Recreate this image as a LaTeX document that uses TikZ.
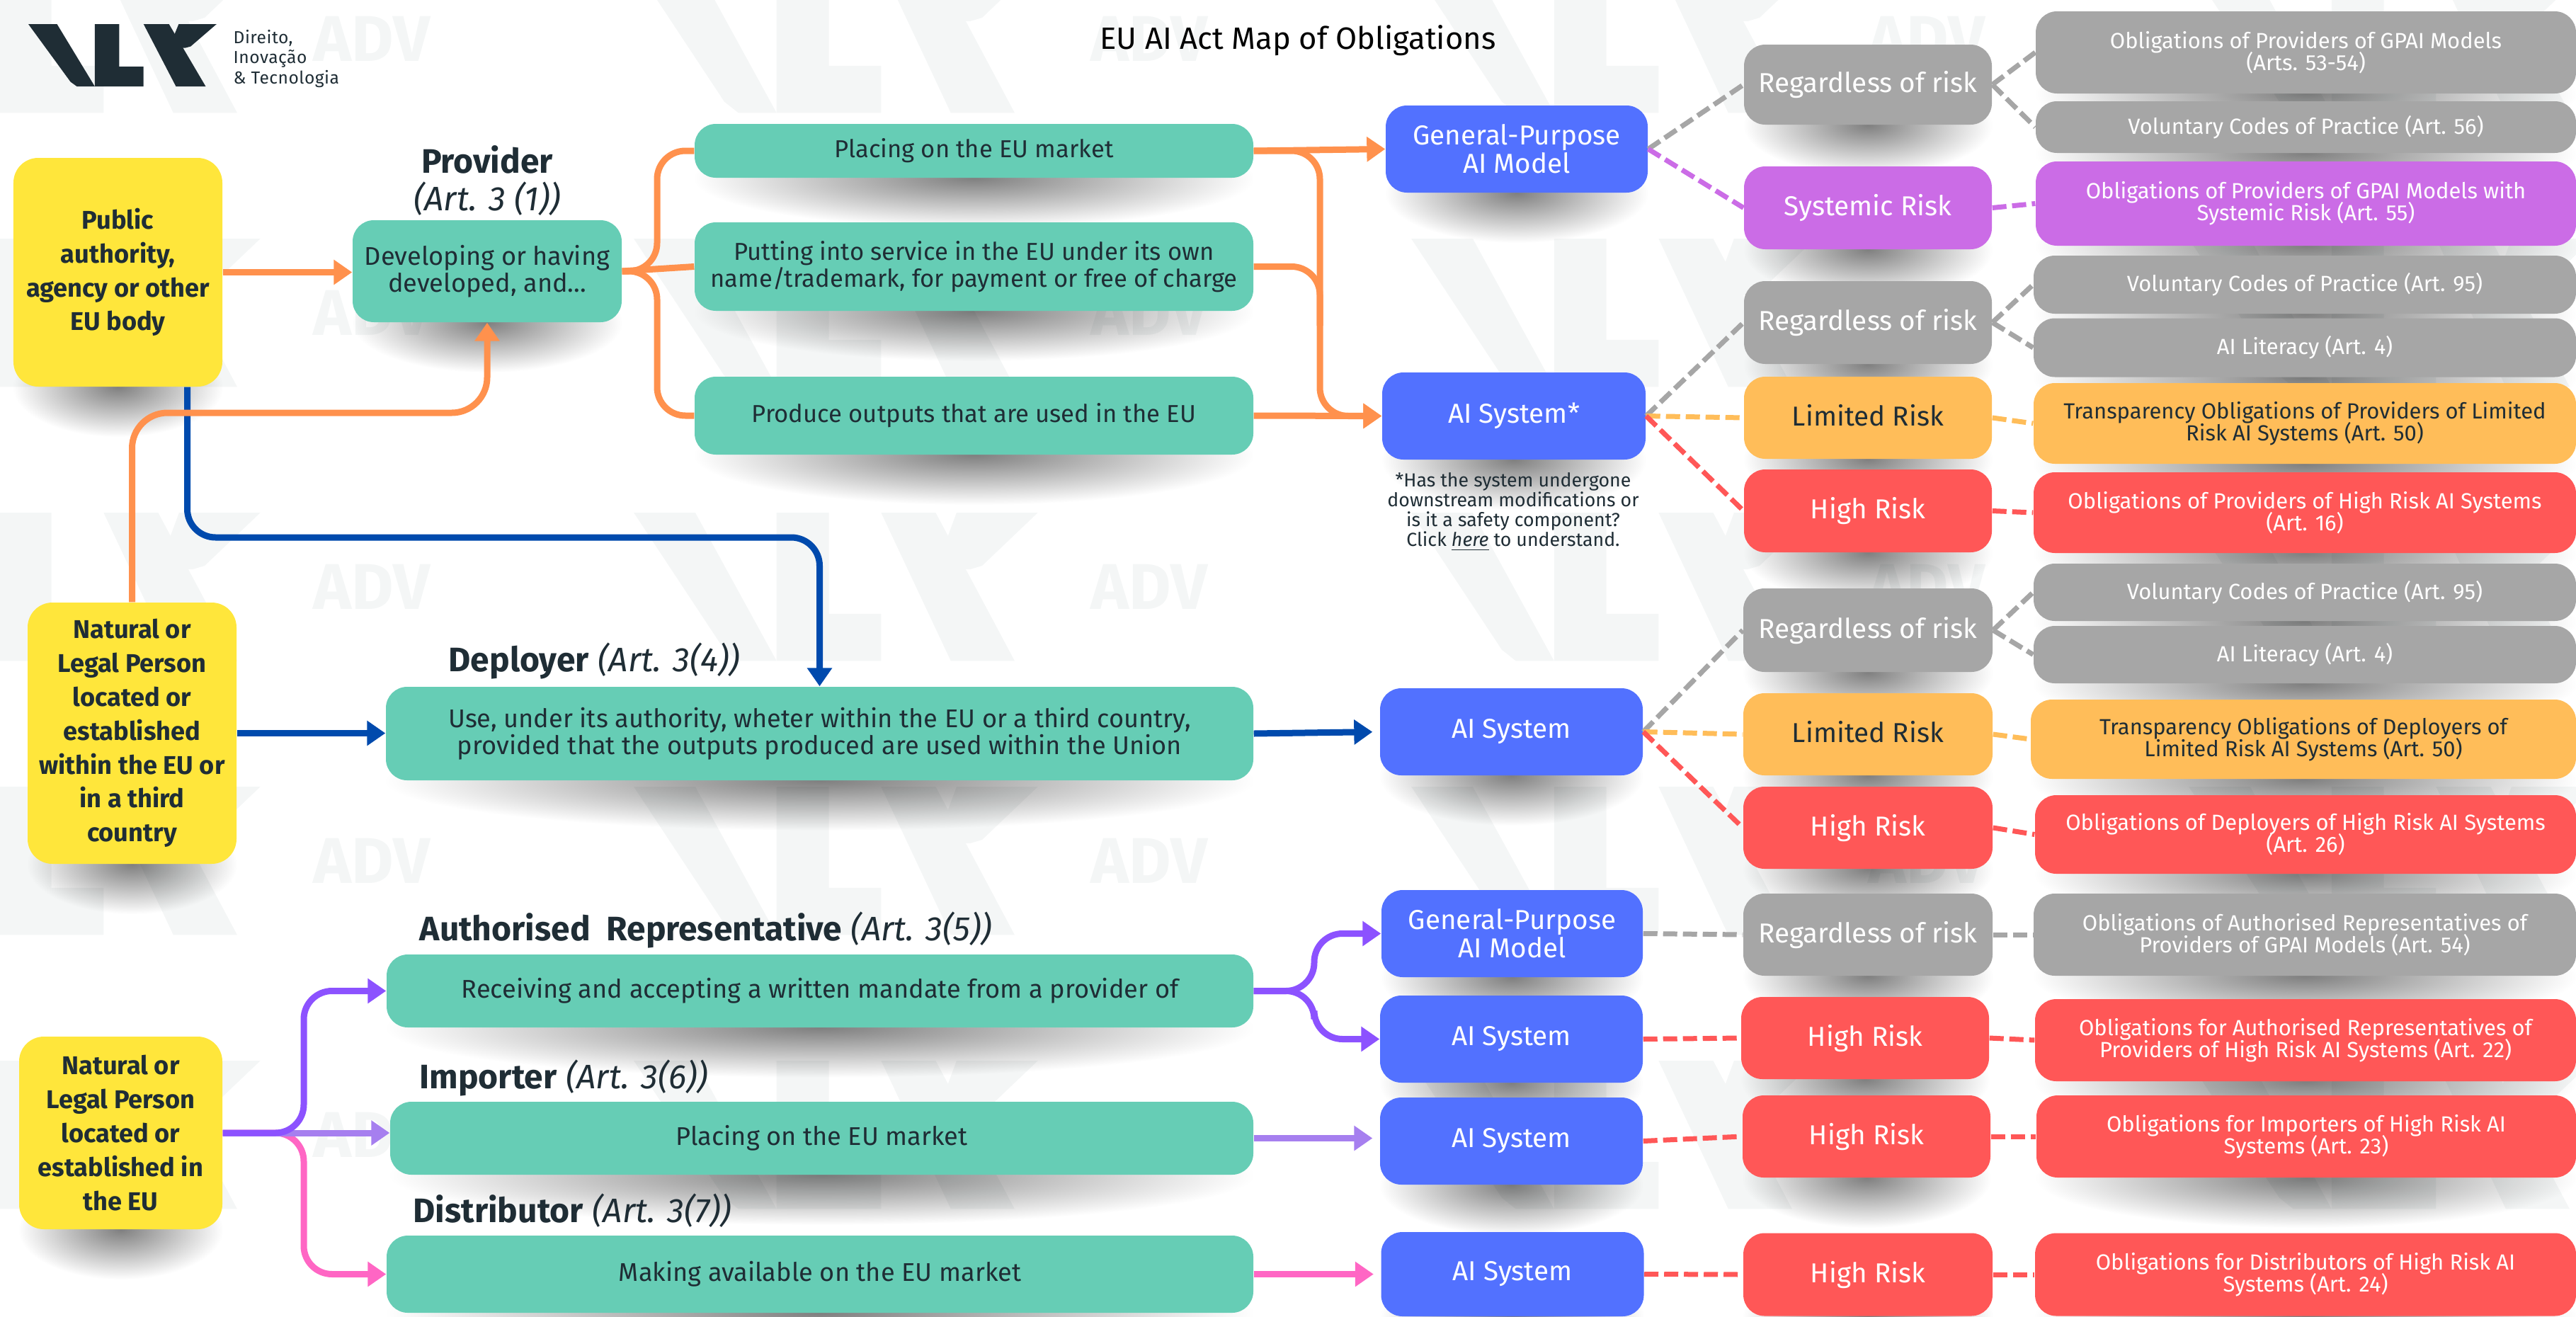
\documentclass[tikz,border=0pt]{standalone}
\usepackage{fontspec}
\setmainfont{Fira Sans}
\usetikzlibrary{arrows.meta,backgrounds,fadings}
\definecolor{inkdark}{HTML}{1F2D35}
\definecolor{markgrey}{HTML}{F4F6F6}
\definecolor{cardyellow}{HTML}{FFE63B}
\definecolor{cardteal}{HTML}{66CDB5}
\definecolor{cardblue}{HTML}{5271FF}
\definecolor{cardgrey}{HTML}{A6A6A6}
\definecolor{cardpurple}{HTML}{CB6CE6}
\definecolor{cardamber}{HTML}{FFBD59}
\definecolor{cardred}{HTML}{FF5757}
\definecolor{lineorange}{HTML}{FF914D}
\definecolor{linenavy}{HTML}{004AAD}
\definecolor{lineviolet}{HTML}{8C52FF}
\definecolor{linelilac}{HTML}{A67FEF}
\definecolor{linepink}{HTML}{FF66C4}
\tikzfading[name=softoval, inner color=transparent!50, outer color=transparent!100]
\lineskiplimit=-5pt
\begin{document}
\begin{tikzpicture}
	[x=1cm, y=-1cm,
	 sz/.style 2 args={minimum width=#1cm, minimum height=#2cm},
	 card/.style={rectangle, rounded corners=.3cm, inner sep=0pt, align=center, text=white},
	 yellowbox/.style={card, fill=cardyellow, text=inkdark, rounded corners=.35cm, font=\fontsize{10.3}{13.6}\selectfont\bfseries},
	 tealbox/.style={card, fill=cardteal, text=inkdark, font=\fontsize{9.85}{10.8}\selectfont},
	 widebox/.style={tealbox, font=\fontsize{10.3}{10.9}\selectfont},
	 bluebox/.style={card, fill=cardblue, font=\fontsize{11}{11.4}\selectfont},
	 riskbox/.style={card, text height=.3cm, text depth=.08cm, font=\fontsize{11}{12}\selectfont},
	 dutybox/.style={card, font=\fontsize{8.8}{8.9}\selectfont},
	 rolelabel/.style={text=inkdark, inner sep=0pt, font=\fontsize{13.65}{15}\selectfont},
	 watermark/.style={text=markgrey, font=\fontsize{26}{26}\selectfont\bfseries},
	 branch/.style={line width=.09cm, rounded corners=.4cm},
	 tipped/.style={branch, -{Triangle[length=.26cm,width=.34cm]}},
	 dashlink/.style={line width=.07cm, dash pattern=on .2cm off .08cm},
	 vlkmark/.pic={
		\fill (0,0) -- (.53,0) -- (1.23,1.73) -- (.9,1.73) -- (.78,1.6) -- cycle;
		\fill (1.23,0) -- (1.68,0) -- (1.68,1.18) -- (2.13,1.18) -- (2.13,1.73) -- (1.23,1.73) -- cycle;
		\fill (2.13,0) -- (2.6,0) -- (3.28,1.73) -- (2.73,1.73) -- cycle;
		\fill (2.78,0) -- (3.48,0) -- (3,.62) -- (2.9,.66) -- (2.6,.66) -- cycle;
	 }]
	\useasboundingbox (0,0) rectangle (36.38,18.59);

	\pic[color=inkdark, xscale=.764, yscale=.51] at (.4,.34) {vlkmark};
	\node[anchor=west, align=left, text=inkdark, inner sep=0pt, font=\fontsize{7}{8.2}\selectfont\addfontfeature{LetterSpace=2}] (vlktext) at (3.29,.83) {Direito,\\Inovação\\\& Tecnologia};
	\node[text=black, inner sep=0pt, font=\fontsize{12.4}{14}\selectfont] (title) at (18.33,.57) {EU AI Act Map of Obligations};

	\node[yellowbox, sz={2.95}{3.23}] (pub) at (1.665,3.845) {Public\\authority,\\agency or other\\EU body};
	\node[yellowbox, sz={2.95}{3.69}] (nat1) at (1.865,10.355) {Natural or\\Legal Person\\located or\\established\\within the EU or\\in a third\\country};
	\node[yellowbox, sz={2.87}{2.72}] (nat2) at (1.705,16) {Natural or\\Legal Person\\located or\\established in\\the EU};

	\node[widebox, sz={3.8}{1.44}] (dev) at (6.88,3.83) {Developing or having\\developed, and...};
	\node[tealbox, sz={7.89}{.76}] (placing) at (13.755,2.13) {Placing on the EU market};
	\node[tealbox, sz={7.89}{1.25}] (putting) at (13.755,3.765) {Putting into service in the EU under its own\\name/trademark, for payment or free of charge};
	\node[tealbox, sz={7.89}{1.1}] (produce) at (13.755,5.87) {Produce outputs that are used in the EU};
	\node[widebox, sz={12.25}{1.32}] (use) at (11.575,10.36) {Use, under its authority, wheter within the EU or a third country,\\provided that the outputs produced are used within the Union};
	\node[widebox, sz={12.24}{1.03}] (recv) at (11.58,13.995) {Receiving and accepting a written mandate from a provider of};
	\node[widebox, sz={12.19}{1.03}] (impo) at (11.605,16.075) {Placing on the EU market};
	\node[widebox, sz={12.24}{1.09}] (dist) at (11.58,17.995) {Making available on the EU market};

	\node[rolelabel, align=center] (provlabel) at (6.88,2.55) {\textbf{Provider}\\\textit{(Art. 3 (1))}};
	\node[rolelabel, anchor=west] (deplabel) at (6.33,9.33) {\textbf{Deployer} \textit{(Art. 3(4))}};
	\node[rolelabel, anchor=west] (reprlabel) at (5.92,13.13) {\textbf{Authorised\ \ Representative} \textit{(Art. 3(5))}};
	\node[rolelabel, anchor=west] (implabel) at (5.92,15.22) {\textbf{Importer} \textit{(Art. 3(6))}};
	\node[rolelabel, anchor=west] (distlabel) at (5.83,17.1) {\textbf{Distributor} \textit{(Art. 3(7))}};

	\node[bluebox, fill=cardblue, sz={3.7}{1.23}] (gp1) at (21.42,2.105) {General-Purpose\\AI Model};
	\node[bluebox, sz={3.72}{1.23}] (ai1) at (21.38,5.875) {AI System*};
	\node[text=inkdark, inner sep=0pt, align=center, font=\fontsize{7.6}{7.9}\selectfont] (aifoot) at (21.37,7.23) {*Has the system undergone\\downstream modifications or\\is it a safety component?\\Click \underline{\textit{here}} to understand.};
	\node[bluebox, sz={3.71}{1.23}] (ai2) at (21.345,10.335) {AI System};
	\node[bluebox, sz={3.69}{1.23}] (gp2) at (21.355,13.185) {General-Purpose\\AI Model};
	\node[bluebox, sz={3.71}{1.23}] (ai3) at (21.345,14.675) {AI System};
	\node[bluebox, sz={3.71}{1.23}] (ai4) at (21.345,16.115) {AI System};
	\node[bluebox, sz={3.71}{1.19}] (ai5) at (21.36,17.995) {AI System};

	\node[riskbox, fill=cardgrey, sz={3.5}{1.13}] (reg1) at (26.38,1.195) {Regardless of risk};
	\node[riskbox, fill=cardpurple, sz={3.5}{1.17}] (sys1) at (26.38,2.935) {Systemic Risk};
	\node[riskbox, fill=cardgrey, sz={3.5}{1.17}] (reg2) at (26.38,4.555) {Regardless of risk};
	\node[riskbox, fill=cardamber, text=inkdark, sz={3.5}{1.16}] (lim1) at (26.38,5.9) {Limited Risk};
	\node[riskbox, fill=cardred, sz={3.5}{1.17}] (high1) at (26.38,7.215) {High Risk};
	\node[riskbox, fill=cardgrey, sz={3.52}{1.18}] (reg3) at (26.38,8.9) {Regardless of risk};
	\node[riskbox, fill=cardamber, text=inkdark, sz={3.52}{1.16}] (lim2) at (26.38,10.37) {Limited Risk};
	\node[riskbox, fill=cardred, sz={3.52}{1.16}] (high2) at (26.38,11.69) {High Risk};
	\node[riskbox, fill=cardgrey, sz={3.52}{1.16}] (reg4) at (26.38,13.2) {Regardless of risk};
	\node[riskbox, fill=cardred, sz={3.5}{1.16}] (high3) at (26.34,14.66) {High Risk};
	\node[riskbox, fill=cardred, sz={3.5}{1.16}] (high4) at (26.36,16.05) {High Risk};
	\node[riskbox, fill=cardred, sz={3.52}{1.17}] (high5) at (26.38,18) {High Risk};

	\node[dutybox, fill=cardgrey, sz={7.63}{1.16}] (duty1) at (32.565,.74) {Obligations of Providers of GPAI Models\\(Arts. 53-54)};
	\node[dutybox, fill=cardgrey, sz={7.63}{.73}] (duty2) at (32.565,1.795) {Voluntary Codes of Practice (Art. 56)};
	\node[dutybox, fill=cardpurple, sz={7.63}{1.19}] (duty3) at (32.565,2.875) {Obligations of Providers of GPAI Models with\\Systemic Risk (Art. 55)};
	\node[dutybox, fill=cardgrey, sz={7.66}{.82}] (duty4) at (32.55,4.02) {Voluntary Codes of Practice (Art. 95)};
	\node[dutybox, fill=cardgrey, sz={7.66}{.83}] (duty5) at (32.55,4.91) {AI Literacy (Art. 4)};
	\node[dutybox, fill=cardamber, text=inkdark, sz={7.66}{1.14}] (duty6) at (32.55,5.98) {Transparency Obligations of Providers of Limited\\Risk AI Systems (Art. 50)};
	\node[dutybox, fill=cardred, sz={7.66}{1.14}] (duty7) at (32.55,7.24) {Obligations of Providers of High Risk AI Systems\\(Art. 16)};
	\node[dutybox, fill=cardgrey, sz={7.66}{.81}] (duty8) at (32.55,8.365) {Voluntary Codes of Practice (Art. 95)};
	\node[dutybox, fill=cardgrey, sz={7.66}{.81}] (duty9) at (32.55,9.245) {AI Literacy (Art. 4)};
	\node[dutybox, fill=cardamber, text=inkdark, sz={7.7}{1.12}] (duty10) at (32.53,10.44) {Transparency Obligations of Deployers of\\Limited Risk AI Systems (Art. 50)};
	\node[dutybox, fill=cardred, sz={7.64}{1.11}] (duty11) at (32.56,11.785) {Obligations of Deployers of High Risk AI Systems\\(Art. 26)};
	\node[dutybox, fill=cardgrey, sz={7.66}{1.16}] (duty12) at (32.55,13.2) {Obligations of Authorised Representatives of\\Providers of GPAI Models (Art. 54)};
	\node[dutybox, fill=cardred, sz={7.64}{1.16}] (duty13) at (32.56,14.69) {Obligations for Authorised Representatives of\\Providers of High Risk AI Systems (Art. 22)};
	\node[dutybox, fill=cardred, sz={7.62}{1.16}] (duty14) at (32.57,16.05) {Obligations for Importers of High Risk AI\\Systems (Art. 23)};
	\node[dutybox, fill=cardred, sz={7.64}{1.17}] (duty15) at (32.56,18) {Obligations for Distributors of High Risk AI\\Systems (Art. 24)};

	\begin{pgfonlayer}{background}
		\foreach \wx in {-2.03, 8.95, 19.93, 30.91}
			\foreach \rowy in {-.5, 3.37, 7.24, 11.11, 14.98}
				\pic[color=markgrey, xscale=1.64, yscale=1.21] at (\wx,\rowy) {vlkmark};
		\foreach \ax in {5.25, 16.23, 27.21}
			\foreach \ay in {.55, 4.42, 8.29, 12.16, 16.03}
				\node[watermark] (adv\ax\ay) at (\ax,\ay) {ADV};
		\foreach \n in {pub,nat1,nat2,dev,placing,putting,produce,use,recv,impo,dist,gp1,ai1,ai2,gp2,ai3,ai4,ai5,reg1,sys1,reg2,lim1,high1,reg3,lim2,high2,reg4,high3,high4,high5,duty1,duty2,duty3,duty4,duty5,duty6,duty7,duty8,duty9,duty10,duty11,duty12,duty13,duty14,duty15}
			\fill[black, path fading=softoval] ([yshift=.7cm]\n.south west) rectangle ([yshift=-.7cm]\n.south east);
	\end{pgfonlayer}

	\coordinate (pubexit) at ([xshift=.98cm]pub.south);
	\coordinate (useturn) at (use.north |- 0,7.59);
	\coordinate (devturn) at (dev.south |- 0,5.83);
	\coordinate (devfork) at (9.28,3.83);
	\coordinate (marketbus) at (18.64,4.6);
	\coordinate (mandatefork) at (18.56,13.995);
	\coordinate (nat2fork) at (4.29,16);

	\draw[tipped, color=linenavy] (pubexit) |- (useturn) -- (use.north);
	\draw[tipped, color=linenavy] (nat1.east) -- (nat1.east -| use.west);

	\draw[tipped, color=lineorange] (pub.east) -- (pub.east -| dev.west);
	\draw[tipped, color=lineorange, rounded corners=.5cm] (nat1.north) |- (devturn) -- (dev.south);
	\draw[branch, color=lineorange] (dev.east) -- (devfork) |- (placing.west);
	\draw[branch, color=lineorange] (dev.east) -- (putting.west);
	\draw[branch, color=lineorange] (dev.east) -- (devfork) |- (produce.west);
	\draw[tipped, color=lineorange] (placing.east) -- (gp1.west);
	\draw[tipped, color=lineorange] (placing.east) -| (marketbus) |- (ai1.west);
	\draw[branch, color=lineorange] (putting.east) -| (marketbus);
	\draw[tipped, color=lineorange] (produce.east) -- (ai1.west);

	\draw[tipped, color=linenavy, shorten >=.1cm] (use.east) -- (ai2.west);

	\draw[tipped, color=lineviolet] (recv.east) -- (mandatefork) |- (gp2.west);
	\draw[tipped, color=lineviolet] (recv.east) -- (mandatefork) |- (ai3.west);
	\draw[tipped, color=linelilac, shorten >=.1cm] (impo.east) -- (impo.east -| ai4.west);
	\draw[tipped, color=linepink, shorten >=.1cm] (dist.east) -- (ai5.west);

	\draw[tipped, color=linepink] (nat2.east) -- (nat2fork) |- (dist.west);
	\draw[tipped, color=linelilac] (nat2.east) -- (nat2.east -| impo.west);
	\draw[tipped, color=lineviolet] (nat2.east) -- (nat2fork) |- (recv.west);

	\foreach \a/\b in {gp1/reg1,reg1/duty1,reg1/duty2,ai1/reg2,reg2/duty4,reg2/duty5,ai2/reg3,reg3/duty8,reg3/duty9,gp2/reg4,reg4/duty12}
		\draw[dashlink, color=cardgrey] (\a.east) -- (\b.west);
	\foreach \a/\b in {gp1/sys1,sys1/duty3}
		\draw[dashlink, color=cardpurple] (\a.east) -- (\b.west);
	\foreach \a/\b in {ai1/lim1,lim1/duty6,ai2/lim2,lim2/duty10}
		\draw[dashlink, color=cardamber] (\a.east) -- (\b.west);
	\foreach \a/\b in {ai1/high1,high1/duty7,ai2/high2,high2/duty11,ai3/high3,high3/duty13,ai4/high4,high4/duty14,ai5/high5,high5/duty15}
		\draw[dashlink, color=cardred] (\a.east) -- (\b.west);
\end{tikzpicture}
\end{document}
